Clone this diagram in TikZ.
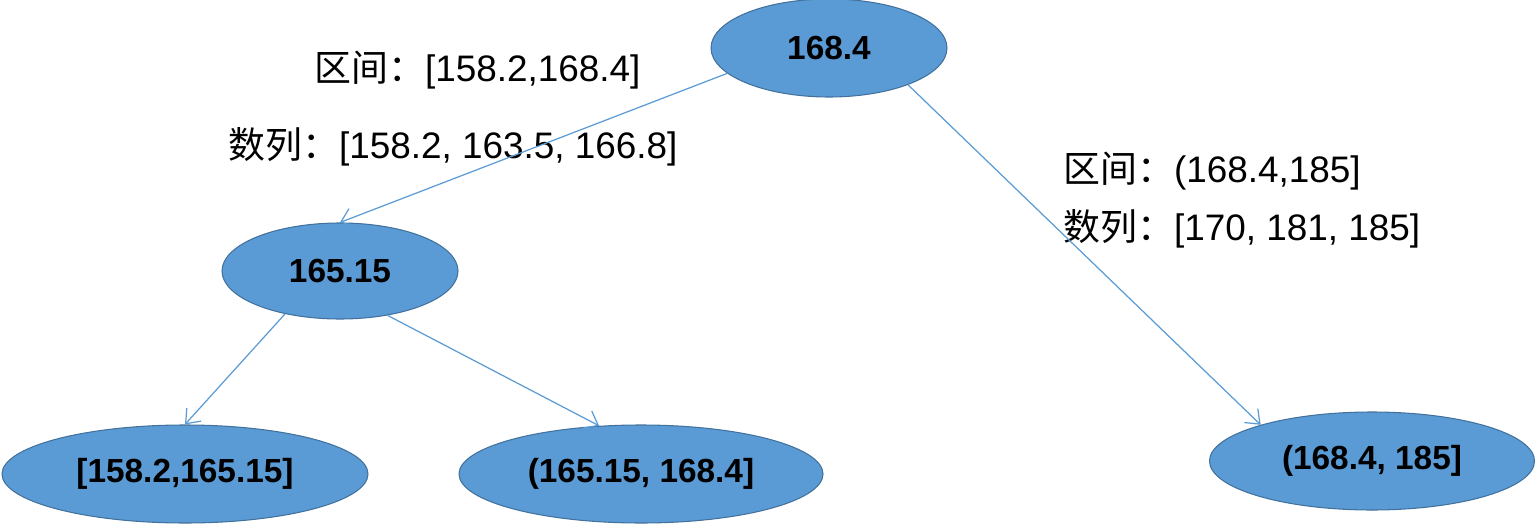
\documentclass[tikz,border=0pt]{standalone}
\usepackage{fontspec}
\setmainfont{Liberation Sans}
\newfontfamily\cjk{Noto Sans CJK SC}
\usetikzlibrary{shapes.geometric,arrows.meta}
\definecolor{nodefill}{HTML}{5B9BD5}
\definecolor{nodeline}{HTML}{41719C}
\begin{document}
\begin{tikzpicture}[x=0.02cm, y=-0.02cm,
    bubble/.style={ellipse, draw=nodeline, line width=0.6pt, fill=nodefill,
      inner sep=0pt, minimum height=98*0.02cm, font=\fontsize{19}{23}\selectfont\bfseries},
    note/.style={anchor=base west, inner sep=0pt, font=\fontsize{21}{25}\selectfont},
    link/.style={draw=nodefill, line width=0.7pt, -{Straight Barb[length=7pt,width=11pt]}}]
  \useasboundingbox (0,0) rectangle (1537,527);

  \node[bubble, minimum width=236*0.02cm] (root) at (829,48) {168.4};
  \node[bubble, minimum width=236*0.02cm, minimum height=96*0.02cm] (mid) at (340,271) {165.15};
  \node[bubble, minimum width=366*0.02cm] (leftleaf) at (185,474) {[158.2,165.15]};
  \node[bubble, minimum width=364*0.02cm] (midleaf) at (641,474) {(165.15, 168.4]};
  \node[bubble, minimum width=325*0.02cm] (rightleaf) at (1372,461) {(168.4, 185]};

  \node[note] (rangeL) at (314,82) {{\cjk 区间：}[158.2,168.4]};
  \node[note] (seqL) at (228,158) {{\cjk 数列：}[158.2, 163.5, 166.8]};
  \node[note] (rangeR) at (1063,182) {{\cjk 区间：}(168.4,185]};
  \node[note] (seqR) at (1063,240) {{\cjk 数列：}[170, 181, 185]};

  \draw[link] (root.194) -- (mid.north);
  \draw[link] (root.335) -- (rightleaf.162);
  \draw[link] (mid.218) -- (leftleaf.north);
  \draw[link] (mid.317) -- (midleaf.131);
\end{tikzpicture}
\end{document}
